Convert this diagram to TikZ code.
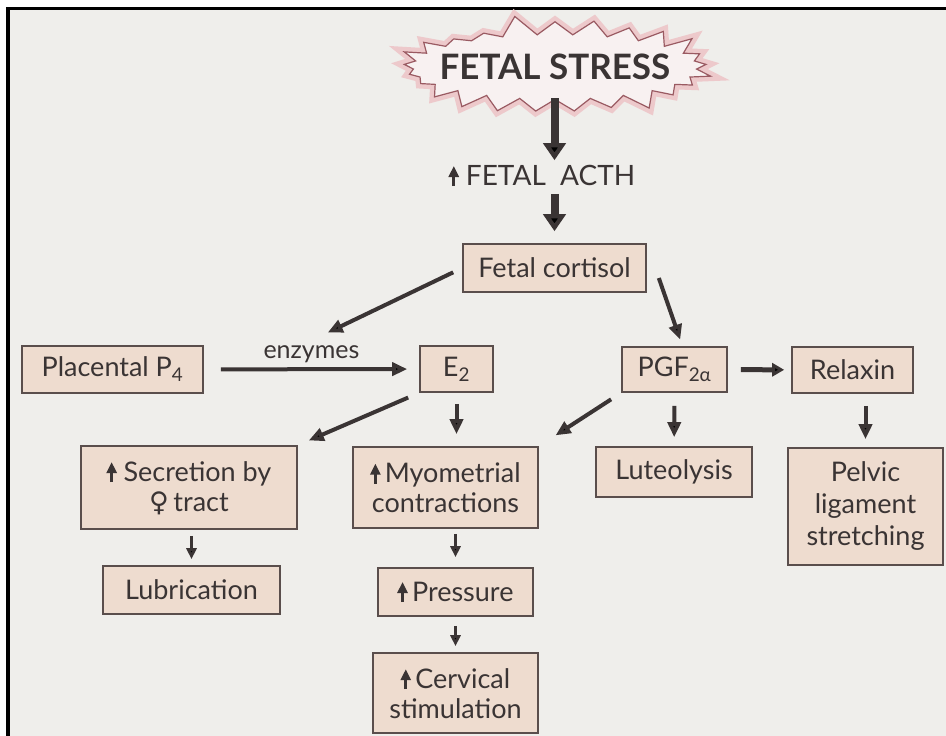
\documentclass[tikz,border=0pt]{standalone}
\usepackage{fontspec}
\setmainfont{Lato}
\newfontfamily\symfont{DejaVu Sans}
\usetikzlibrary{shapes.symbols,arrows.meta}

\definecolor{bgpaper}{HTML}{EFEEEB}
\definecolor{boxfill}{HTML}{EEDCCF}
\definecolor{boxline}{HTML}{5A4E4C}
\definecolor{inkdark}{HTML}{3A3434}
\definecolor{burstline}{HTML}{9A5A62}
\definecolor{burstglow}{HTML}{EDC9CB}
\definecolor{burstfill}{HTML}{F8F1F1}

% small "increase" arrow used inside the texts
\newcommand{\incr}{\tikz[baseline=0pt]\draw[inkdark, line width=3.2pt, -{Triangle[width=10pt,length=11pt]}] (0,-1pt) -- (0,19pt);}

\begin{document}
\begin{tikzpicture}[
  x=1pt, y=-1pt,
  box/.style={draw=boxline, fill=boxfill, line width=1.6pt, inner sep=0pt, align=center, text=inkdark, font=\fontsize{27}{30}\selectfont},
  bigarr/.style={draw=inkdark, line width=8pt, -{Triangle[width=22pt,length=17pt]}},
  arr/.style={draw=inkdark, line width=4pt, -{Triangle[width=13pt,length=15pt]}},
  medarr/.style={draw=inkdark, line width=5pt, -{Triangle[width=13pt,length=12pt]}},
  smallarr/.style={draw=inkdark, line width=3.5pt, -{Triangle[width=10pt,length=11pt]}},
]
\useasboundingbox (0,0) rectangle (946,736);
% paper and frame
\fill[white] (0,0) rectangle (946,736);
\fill[bgpaper] (8,8.5) rectangle (946,736);
\draw[black, line width=3.5pt] (8,736) -- (8,8.5) -- (946,8.5);

% top of the cascade
\node[starburst, starburst points=25, starburst point height=21pt, random starburst=5,
  draw=burstline, fill=burstfill, line width=1.2pt, preaction={draw=burstglow, line width=10pt},
  inner xsep=-15pt, inner ysep=10pt, text=inkdark,
  font=\fontsize{35}{35}\bfseries\selectfont] (stress) at (555,67) {FETAL STRESS};
\node[inner sep=2pt, text=inkdark, font=\fontsize{28}{30}\selectfont] (acth) at (542,176) {\incr\ FETAL\ \ ACTH};
\node[box, minimum width=183pt, minimum height=48pt] (cort) at (554.5,268) {Fetal cortisol};

% second row
\node[box, minimum width=181pt, minimum height=47pt] (plac) at (112.5,369.5) {Placental P\textsubscript{4}};
\node[box, minimum width=73pt, minimum height=46pt] (estr) at (456.5,369) {E\textsubscript{2}};
\node[box, minimum width=105pt, minimum height=45pt] (pgf) at (674.5,369.5) {PGF\textsubscript{2α}};
\node[box, minimum width=121pt, minimum height=46pt] (relax) at (852.5,370) {Relaxin};

% effects
\node[box, minimum width=216pt, minimum height=83pt] (secr) at (189,487.5) {\incr\ Secretion by\\{\symfont ♀}\,tract};
\node[box, minimum width=185pt, minimum height=81pt] (myo) at (445.5,487.5) {\incr\,Myometrial\\contractions};
\node[box, minimum width=156pt, minimum height=50pt] (lute) at (674,472) {Luteolysis};
\node[box, minimum width=155pt, minimum height=117pt, font=\fontsize{27}{32}\selectfont] (pelv) at (865.5,506.5) {Pelvic\\ligament\\stretching};
\node[box, minimum width=177pt, minimum height=48pt] (lubr) at (191.5,590) {Lubrication};
\node[box, minimum width=155pt, minimum height=48pt] (press) at (455.5,592) {\incr\,Pressure};
\node[box, minimum width=165pt, minimum height=80pt] (cerv) at (455.5,693) {\incr\,Cervical\\stimulation};

% arrows
\draw[bigarr, shorten <=-2pt, shorten >=2pt] (stress.south -| cort) -- (acth.north -| cort);
\draw[bigarr, shorten <=4pt, shorten >=12pt] (acth.south -| cort) -- (cort.north);
\draw[arr, shorten <=17pt, shorten >=12pt] (plac) -- node[above=1pt, text=inkdark, font=\fontsize{25}{28}\selectfont] (enz) {enzymes} (estr);
\draw[arr, shorten <=10pt, shorten >=18pt] (cort.west) -- (enz.north);
\draw[arr, shorten >=7pt] ([xshift=12pt,yshift=-10pt]cort.east) -- ([xshift=8pt]pgf.north);
\draw[medarr, shorten <=13pt, shorten >=7pt] (pgf) -- (relax);
\draw[arr, shorten <=12pt, shorten >=12pt] (estr.south west) -- (secr.north east);
\draw[arr, shorten <=11pt, shorten >=12pt] (estr.south) -- (estr.south |- myo.north);
\draw[arr, shorten <=12pt, shorten >=20pt] (pgf.south west) -- (myo.north east);
\draw[arr, shorten <=13pt, shorten >=9pt] (pgf) -- (lute);
\draw[arr, shorten <=12pt, shorten >=8pt] (relax.south -| pelv) -- (pelv.north);
\draw[smallarr, shorten <=6pt, shorten >=6pt] (secr.south -| lubr) -- (lubr.north);
\draw[smallarr, shorten <=5pt, shorten >=10pt] (myo.south -| press) -- (press.north);
\draw[smallarr, shorten <=9pt, shorten >=6pt] (press) -- (cerv);
\end{tikzpicture}
\end{document}
